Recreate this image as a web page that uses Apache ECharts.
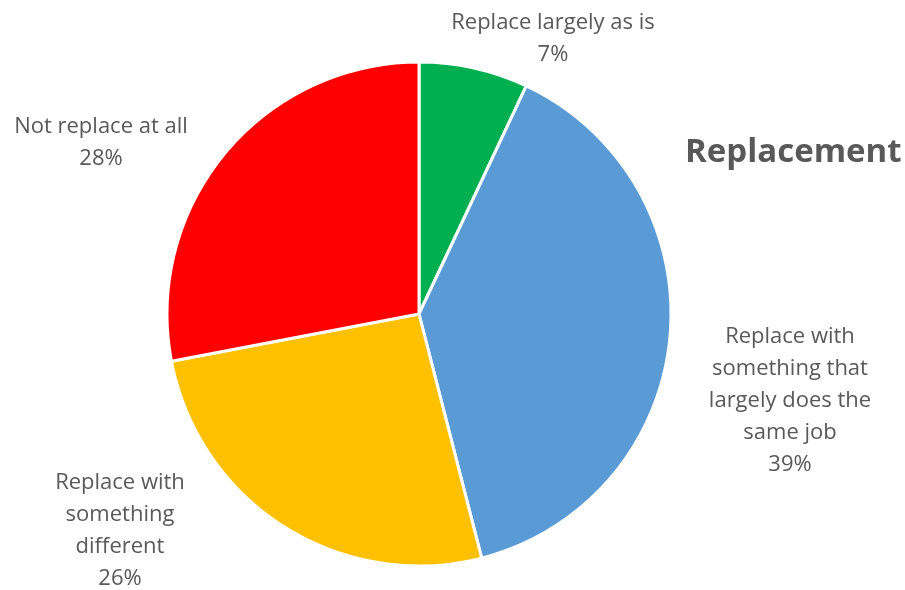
<!DOCTYPE html>
<html>
<head>
<meta charset="utf-8">
<script src="https://cdn.jsdelivr.net/npm/echarts@6/dist/echarts.min.js"></script>
<style>
  html, body { margin: 0; padding: 0; background: #fff; }
  #chart { width: 905px; height: 590px; }
</style>
</head>
<body>
<div id="chart"></div>
<script>
// Slice names and shares (percent), clockwise from 12 o'clock
const categories = [
  'Replace largely as is',
  'Replace with\nsomething that\nlargely does the\nsame job',
  'Replace with\nsomething\ndifferent',
  'Not replace at all'
];
const values = [7, 39, 26, 28];
const colors = ['#00b050', '#5b9bd5', '#ffc000', '#ff0000'];

// Label anchor points (centre of each text block)
const labelSpots = [[553, 39], [790, 401], [120, 531], [101, 143]];

const chart = echarts.init(document.getElementById('chart'));
chart.setOption({
  animation: false,
  title: {
    text: 'Replacement',
    left: 680,
    top: 131,
    textStyle: { fontFamily: 'Open Sans', fontWeight: 'bold', fontSize: 33, color: '#595959' }
  },
  series: [{
    type: 'pie',
    center: [419, 314],
    radius: 252,
    startAngle: 90,
    clockwise: true,
    data: categories.map((c, i) => ({ name: c, value: values[i], itemStyle: { color: colors[i] } })),
    itemStyle: { borderColor: '#fff', borderWidth: 3 },
    label: {
      show: true,
      position: 'outside',
      formatter: p => p.name + '\n' + p.value + '%',
      fontFamily: 'Open Sans',
      fontSize: 22,
      lineHeight: 32,
      color: '#595959',
      align: 'center',
      overflow: 'none'
    },
    labelLine: { show: false },
    labelLayout: p => ({
      x: labelSpots[p.dataIndex][0],
      y: labelSpots[p.dataIndex][1],
      align: 'center',
      verticalAlign: 'middle'
    })
  }]
});
</script>
</body>
</html>
